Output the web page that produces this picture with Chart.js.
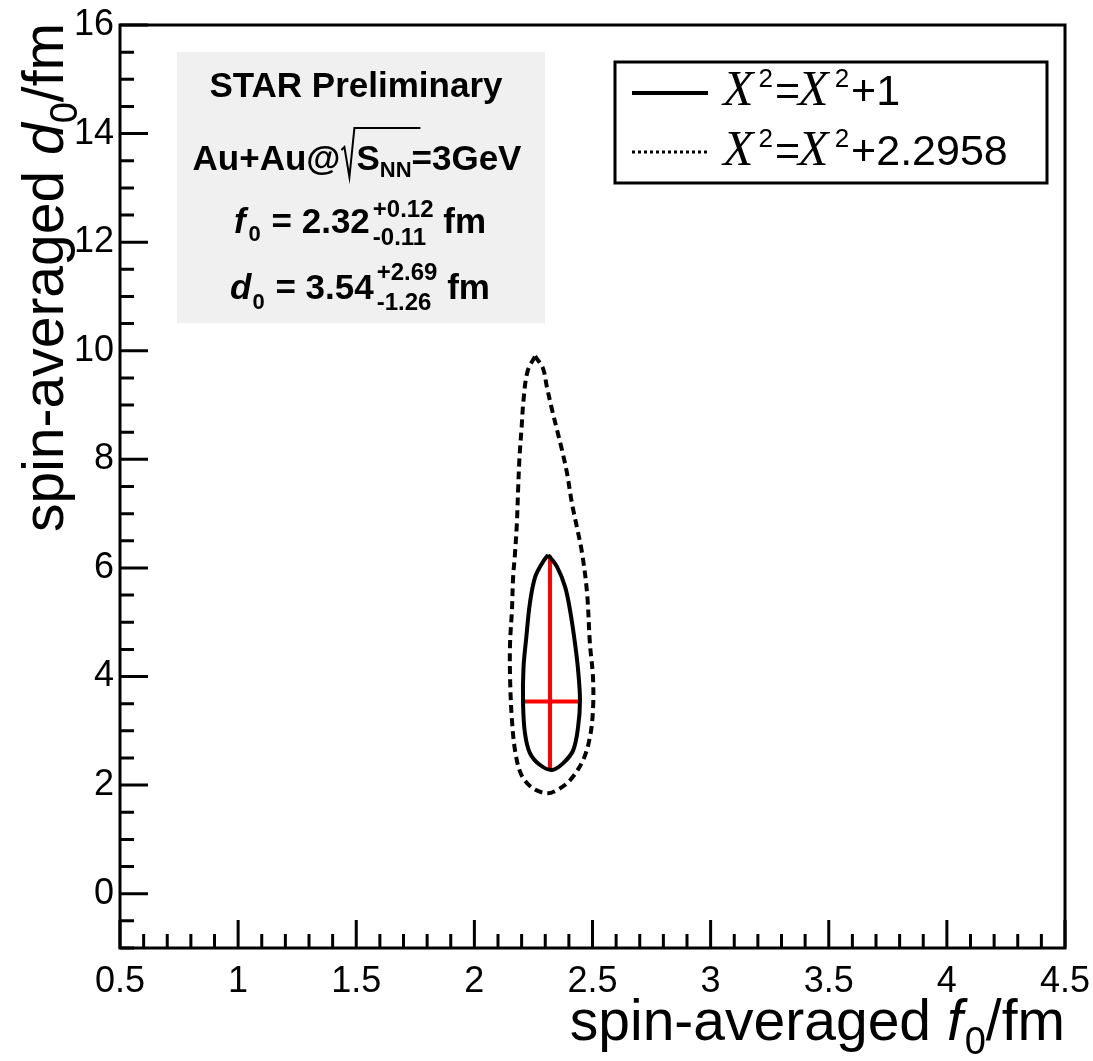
<!DOCTYPE html>
<html>
<head>
<meta charset="utf-8">
<script src="https://cdn.jsdelivr.net/npm/chart.js@4.4.1/dist/chart.umd.min.js"></script>
<style>html,body{margin:0;padding:0;background:#fff}</style>
</head>
<body>
<canvas id="c" width="1093" height="1061"></canvas>
<script>
const xTicks = [0.5, 1, 1.5, 2, 2.5, 3, 3.5, 4, 4.5]
const yTicks = [0, 2, 4, 6, 8, 10, 12, 14, 16]

// best fit and errors
const f0Best = 2.32, f0Up = 0.12, f0Down = 0.11
const d0Best = 3.54, d0Up = 2.69, d0Down = 1.26

// chi2 = chi2min + 1 contour (solid)
const solidF = [2.312, 2.350, 2.384, 2.405, 2.426, 2.439, 2.447, 2.439, 2.418, 2.375, 2.329, 2.278, 2.235, 2.214, 2.206, 2.208, 2.220, 2.235, 2.257, 2.290, 2.312]
const solidD = [6.24, 6.02, 5.65, 5.22, 4.61, 4.12, 3.56, 3.07, 2.64, 2.40, 2.28, 2.37, 2.59, 2.96, 3.51, 4.17, 4.73, 5.35, 5.83, 6.11, 6.24]

// chi2 = chi2min + 2.2958 contour (dashed)
const dashF = [2.257, 2.290, 2.307, 2.329, 2.350, 2.371, 2.392, 2.413, 2.434, 2.456, 2.477, 2.489, 2.502, 2.502, 2.489, 2.460, 2.405, 2.350, 2.307, 2.248, 2.200, 2.174, 2.159, 2.151, 2.151, 2.159, 2.164, 2.172, 2.180, 2.185, 2.191, 2.200, 2.208, 2.225, 2.257]
const dashD = [9.90, 9.68, 9.33, 8.91, 8.54, 8.17, 7.75, 7.19, 6.75, 6.27, 5.54, 4.61, 3.99, 3.38, 2.88, 2.46, 2.09, 1.91, 1.85, 1.94, 2.18, 2.59, 3.20, 3.99, 4.61, 5.22, 5.83, 6.27, 6.83, 7.43, 8.04, 8.59, 9.09, 9.62, 9.90]

const SANS = 'Liberation Sans, Arial, Helvetica, sans-serif'
const SERIF = 'Liberation Serif, Times New Roman, serif'

function pts(xs, ys) {
  return xs.map((v, i) => ({x: v, y: ys[i]}))
}

// draw a list of text runs one after another, returns width
function runs(ctx, x, y, list, measureOnly) {
  let cx = x
  for (const r of list) {
    if (r.sup !== undefined) {
      ctx.font = r.font
      const w = Math.max(ctx.measureText(r.sup).width, ctx.measureText(r.sub).width)
      if (!measureOnly) {
        ctx.fillText(r.sup, cx + (r.pre || 0), y + r.dySup)
        ctx.fillText(r.sub, cx + (r.pre || 0), y + r.dySub)
      }
      cx += w + (r.pre || 0)
    } else {
      ctx.font = r.font
      if (!measureOnly) ctx.fillText(r.t, cx, y + (r.dy || 0))
      cx += ctx.measureText(r.t).width + (r.gap || 0)
    }
  }
  return cx - x
}

const frame = {
  id: 'frame',
  afterDraw(chart) {
    const {ctx, chartArea: a, scales: {x, y}} = chart
    ctx.save()
    ctx.strokeStyle = '#000'
    ctx.lineWidth = 3
    ctx.beginPath()
    for (let i = 5; i <= 45; i++) {
      const px = x.getPixelForValue(i / 10)
      const len = i % 5 == 0 ? 28 : 14
      ctx.moveTo(px, a.bottom)
      ctx.lineTo(px, a.bottom - len)
    }
    for (let i = -2; i <= 32; i++) {
      const py = y.getPixelForValue(i / 2)
      const len = i % 4 == 0 ? 28 : 14
      ctx.moveTo(a.left, py)
      ctx.lineTo(a.left + len, py)
    }
    ctx.stroke()
    ctx.strokeRect(a.left, a.top, a.right - a.left, a.bottom - a.top)

    ctx.fillStyle = '#000'
    ctx.textBaseline = 'alphabetic'
    ctx.textAlign = 'left'

    // axis titles
    const xt = [
      {t: 'spin-averaged ', font: '57px ' + SANS},
      {t: 'f', font: 'italic 57px ' + SANS, gap: 2},
      {t: '0', font: '38px ' + SANS, dy: 14},
      {t: '/fm', font: '57px ' + SANS}
    ]
    const wx = runs(ctx, 0, 0, xt, true)
    runs(ctx, a.right - wx, 1040, xt)

    const yt = [
      {t: 'spin-averaged ', font: '57px ' + SANS},
      {t: 'd', font: 'italic 57px ' + SANS},
      {t: '0', font: '38px ' + SANS, dy: 14},
      {t: '/fm', font: '57px ' + SANS}
    ]
    const wy = runs(ctx, 0, 0, yt, true)
    ctx.save()
    ctx.translate(63, a.top - 2)
    ctx.rotate(-Math.PI / 2)
    runs(ctx, -wy, 0, yt)
    ctx.restore()

    // info box
    ctx.fillStyle = '#f0f0f0'
    ctx.fillRect(177, 52, 368, 271)
    ctx.fillStyle = '#000'
    const cx = 357
    const B = 'bold 35px ' + SANS, Bs = 'bold 22px ' + SANS
    ctx.font = B
    ctx.textAlign = 'center'
    ctx.fillText('STAR Preliminary', cx - 1, 97)
    ctx.textAlign = 'left'

    const au1 = [{t: 'Au+Au@', font: B, gap: 16}]
    const au2 = [{t: 'S', font: B}, {t: 'NN', font: Bs, dy: 7}, {t: '=3GeV', font: B}]
    const w1 = runs(ctx, 0, 0, au1, true), w2 = runs(ctx, 0, 0, au2, true)
    let sx = cx - (w1 + w2) / 2
    runs(ctx, sx, 170, au1)
    // radical sign
    const rx = sx + w1 - 12
    ctx.lineWidth = 2
    ctx.beginPath()
    ctx.moveTo(rx - 3, 150)
    ctx.lineTo(rx, 147)
    ctx.lineTo(rx + 5, 177)
    ctx.lineTo(rx + 10, 128)
    ctx.lineTo(sx + w1 + 64, 128)
    ctx.stroke()
    runs(ctx, sx + w1, 170, au2)

    const S = 'bold 24px ' + SANS
    const fRow = [
      {t: 'f', font: 'bold italic 35px ' + SANS, gap: 3},
      {t: '0', font: Bs, dy: 8, gap: 1},
      {t: ' = 2.32', font: B},
      {sup: '+' + f0Up.toFixed(2), sub: '-' + f0Down.toFixed(2), font: S, dySup: -16, dySub: 12, pre: 3},
      {t: ' fm', font: B}
    ]
    const wf = runs(ctx, 0, 0, fRow, true)
    runs(ctx, 360 - wf / 2, 233, fRow)
    const dRow = [
      {t: 'd', font: 'bold italic 35px ' + SANS, gap: 1},
      {t: '0', font: Bs, dy: 10, gap: 1},
      {t: ' = 3.54', font: B},
      {sup: '+' + d0Up.toFixed(2), sub: '-' + d0Down.toFixed(2), font: S, dySup: -19, dySub: 11, pre: 3},
      {t: ' fm', font: B}
    ]
    const wd = runs(ctx, 0, 0, dRow, true)
    runs(ctx, 360 - wd / 2, 299, dRow)

    // legend
    ctx.fillStyle = '#fff'
    ctx.fillRect(615, 62, 432, 121)
    ctx.lineWidth = 3
    ctx.strokeRect(615, 62, 432, 121)
    ctx.lineWidth = 4
    ctx.beginPath()
    ctx.moveTo(632, 93)
    ctx.lineTo(708, 93)
    ctx.stroke()
    ctx.lineWidth = 3
    ctx.setLineDash([3, 3])
    ctx.beginPath()
    ctx.moveTo(632, 152)
    ctx.lineTo(708, 152)
    ctx.stroke()
    ctx.setLineDash([])
    ctx.fillStyle = '#000'
    const X = 'italic 50px ' + SERIF, N = '43px ' + SANS, Ns = '26px ' + SANS
    const leg = (tail) => [
      {t: 'X', font: X, gap: 5},
      {t: '2', font: Ns, dy: -18, gap: 2},
      {t: '=', font: N, gap: -2},
      {t: 'X', font: X, gap: 6},
      {t: '2', font: Ns, dy: -18, gap: 2},
      {t: tail, font: N}
    ]
    runs(ctx, 723, 105, leg('+1'))
    runs(ctx, 723, 165, leg('+2.2958'))
    ctx.restore()
  }
}

new Chart(document.getElementById('c'), {
  type: 'scatter',
  data: {
    datasets: [
      {
        label: 'X2=X2+1',
        data: pts(solidF, solidD),
        showLine: true,
        borderColor: '#000',
        borderWidth: 4,
        pointRadius: 0,
        tension: 0.35
      },
      {
        label: 'X2=X2+2.2958',
        data: pts(dashF, dashD),
        showLine: true,
        borderColor: '#000',
        borderWidth: 4,
        borderDash: [8, 5],
        pointRadius: 0,
        tension: 0.35
      },
      {
        label: 'f0 error',
        data: [{x: f0Best - f0Down, y: d0Best}, {x: f0Best + f0Up, y: d0Best}],
        showLine: true,
        borderColor: '#ff0000',
        borderWidth: 4,
        pointRadius: 0
      },
      {
        label: 'd0 error',
        data: [{x: f0Best, y: d0Best - d0Down}, {x: f0Best, y: d0Best + d0Up}],
        showLine: true,
        borderColor: '#ff0000',
        borderWidth: 4,
        pointRadius: 0
      }
    ]
  },
  options: {
    responsive: false,
    animation: false,
    devicePixelRatio: 1,
    layout: {padding: {left: 0, top: 25, right: 28, bottom: 0}},
    plugins: {legend: {display: false}, tooltip: {enabled: false}},
    scales: {
      x: {
        type: 'linear',
        min: 0.5,
        max: 4.5,
        afterBuildTicks: s => { s.ticks = xTicks.map(v => ({value: v})) },
        afterFit: s => { s.height = 113; s.paddingLeft = 0; s.paddingRight = 0 },
        grid: {display: false, drawTicks: false},
        border: {display: false},
        ticks: {color: '#000', font: {family: SANS, size: 36}, padding: 12, maxRotation: 0, autoSkip: false, callback: v => String(v)}
      },
      y: {
        type: 'linear',
        min: -1,
        max: 16,
        afterBuildTicks: s => { s.ticks = yTicks.map(v => ({value: v})) },
        afterFit: s => { s.width = 120; s.paddingTop = 0; s.paddingBottom = 0 },
        grid: {display: false, drawTicks: false},
        border: {display: false},
        ticks: {color: '#000', font: {family: SANS, size: 36}, padding: 6, autoSkip: false, callback: v => String(v)}
      }
    }
  },
  plugins: [frame]
})
</script>
</body>
</html>
